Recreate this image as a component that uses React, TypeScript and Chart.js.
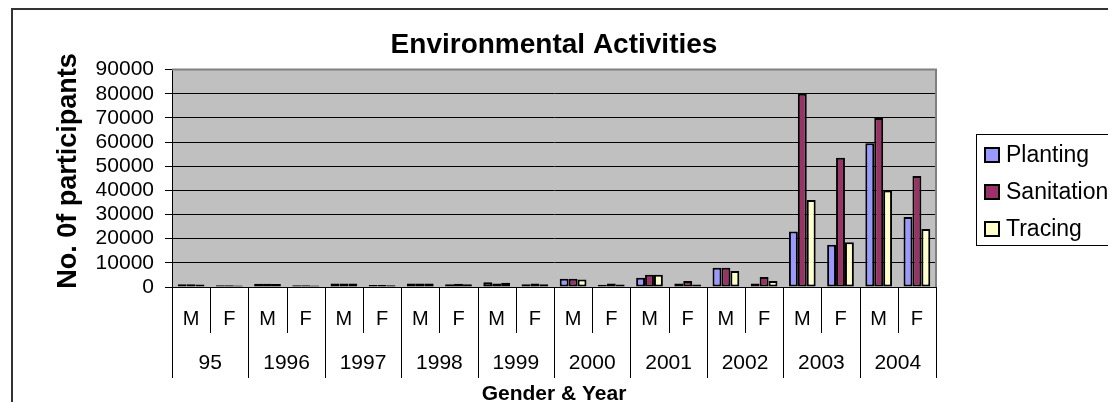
import React, { useEffect, useRef } from "react";
import { Chart, registerables } from "chart.js";

Chart.register(...registerables);

const FONT = "'Liberation Sans', Arial, Helvetica, sans-serif";

const CATEGORIES = ["M", "F", "M", "F", "M", "F", "M", "F", "M", "F", "M", "F", "M", "F", "M", "F", "M", "F", "M", "F"];
const YEARS = ["95", "1996", "1997", "1998", "1999", "2000", "2001", "2002", "2003", "2004"];

const PLANTING = [1100, 700, 1300, 700, 1500, 800, 1500, 1100, 1950, 1100, 3400, 900, 3800, 1500, 8000, 1500, 23000, 17500, 59500, 29000];
const SANITATION = [1100, 700, 1300, 700, 1500, 800, 1500, 1300, 1400, 1500, 3400, 1500, 5100, 2500, 8000, 4100, 80000, 53500, 70000, 46000];
const TRACING = [1000, 600, 1200, 600, 1400, 700, 1500, 1100, 1800, 1100, 3100, 1000, 5100, 1000, 6600, 2500, 36000, 18500, 40000, 24000];

const SERIES_NAMES = ["Planting", "Sanitation", "Tracing"];
const SERIES_COLORS = ["#9999FF", "#993366", "#FFFFCC"];

const Y_MIN = 0;
const Y_MAX = 90000;
const Y_STEP = 10000;

const TITLE = "Environmental Activities";
const Y_TITLE = "No. 0f participants";
const X_TITLE = "Gender & Year";

const framePlugin = {
  id: "frame",
  beforeDraw(chart: any) {
    const { ctx, chartArea } = chart;
    ctx.save();
    ctx.fillStyle = "#ffffff";
    ctx.fillRect(0, 0, chart.width, chart.height);
    ctx.strokeStyle = "#333333";
    ctx.lineWidth = 2;
    ctx.strokeRect(12, 9, 3000, 3000);
    ctx.fillStyle = "#C0C0C0";
    ctx.fillRect(chartArea.left, chartArea.top, chartArea.right - chartArea.left, chartArea.bottom - chartArea.top);
    ctx.restore();
  },
  afterDraw(chart: any) {
    const { ctx, chartArea } = chart;
    ctx.save();
    // plot border (top & right)
    ctx.strokeStyle = "#808080";
    ctx.lineWidth = 2;
    ctx.beginPath();
    ctx.moveTo(chartArea.left, chartArea.top);
    ctx.lineTo(chartArea.right, chartArea.top);
    ctx.lineTo(chartArea.right, chartArea.bottom);
    ctx.stroke();

    // category separators
    const xs = chart.scales.x;
    const n = xs.getLabels().length;
    const w = xs.getPixelForValue(1) - xs.getPixelForValue(0);
    ctx.strokeStyle = "#000000";
    ctx.lineWidth = 1;
    for (let i = 0; i <= n; i++) {
      const px = Math.round(xs.getPixelForValue(i) - w / 2) + 0.5;
      const yEnd = i % 2 === 0 ? 378 : 333;
      ctx.beginPath();
      ctx.moveTo(px, chartArea.bottom);
      ctx.lineTo(px, yEnd);
      ctx.stroke();
    }

    // y axis title
    ctx.save();
    ctx.translate(69, 171);
    ctx.rotate(-Math.PI / 2);
    ctx.font = `bold 27px ${FONT}`;
    ctx.fillStyle = "#000000";
    ctx.textAlign = "center";
    ctx.textBaseline = "middle";
    ctx.fillText(Y_TITLE, 0, 0);
    ctx.restore();

    // legend
    const lx = 976.5;
    const ly = 134.5;
    ctx.strokeStyle = "#000000";
    ctx.lineWidth = 1;
    ctx.strokeRect(lx, ly, 400, 111);
    const centers = [155, 192, 229];
    ctx.font = `23px ${FONT}`;
    ctx.textBaseline = "middle";
    ctx.textAlign = "left";
    chart.data.datasets.forEach((ds: any, i: number) => {
      const cy = centers[i];
      ctx.fillStyle = ds.backgroundColor;
      ctx.fillRect(985, cy - 7, 14, 14);
      ctx.strokeStyle = "#000000";
      ctx.lineWidth = 2;
      ctx.strokeRect(985, cy - 7, 14, 14);
      ctx.fillStyle = "#000000";
      ctx.fillText(ds.label, 1006, cy + 1);
    });
    ctx.restore();
  },
};

export default function App() {
  const ref = useRef<HTMLCanvasElement>(null);

  useEffect(() => {
    const seriesData = [PLANTING, SANITATION, TRACING];
    const chart = new Chart(ref.current as HTMLCanvasElement, {
      type: "bar",
      data: {
        labels: CATEGORIES,
        datasets: SERIES_NAMES.map((name, i) => ({
          label: name,
          data: seriesData[i],
          backgroundColor: SERIES_COLORS[i],
          borderColor: "#000000",
          borderWidth: 2,
          borderSkipped: false,
          categoryPercentage: 0.7,
          barPercentage: 1.0,
          xAxisID: "x",
        })),
      },
      options: {
        responsive: false,
        animation: false,
        events: [],
        layout: { padding: { left: 0, right: 180, top: 0, bottom: 0 } },
        plugins: {
          legend: { display: false },
          tooltip: { enabled: false },
          title: {
            display: true,
            text: TITLE,
            fullSize: false,
            color: "#000000",
            font: { family: FONT, size: 28, weight: "bold", lineHeight: 1.2 },
            padding: { top: 28, bottom: 8 },
          },
        },
        scales: {
          x: {
            type: "category",
            position: "bottom",
            offset: true,
            grid: { display: false, drawTicks: false },
            border: { display: true, color: "#000000", width: 1 },
            ticks: {
              color: "#000000",
              font: { family: FONT, size: 20 },
              padding: 20,
              autoSkip: false,
              maxRotation: 0,
            },
            afterFit: (s: any) => {
              s.height = 46;
            },
          },
          x2: {
            type: "category",
            position: "bottom",
            labels: YEARS,
            offset: true,
            grid: { display: false, drawTicks: false },
            border: { display: false },
            ticks: {
              color: "#000000",
              font: { family: FONT, size: 21 },
              padding: 18,
              autoSkip: false,
              maxRotation: 0,
            },
            title: {
              display: true,
              text: X_TITLE,
              color: "#000000",
              font: { family: FONT, size: 21, weight: "bold", lineHeight: 1.2 },
              padding: { top: 0, bottom: 3 },
            },
            afterFit: (s: any) => {
              s.height = 77;
            },
          },
          y: {
            min: Y_MIN,
            max: Y_MAX,
            grid: {
              color: (c: any) => (c.tick && c.tick.value === Y_MAX ? "#808080" : "#000000"),
              tickColor: "#000000",
              tickLength: 7,
              lineWidth: 1,
            },
            border: { display: true, color: "#000000", width: 1 },
            ticks: {
              stepSize: Y_STEP,
              maxTicksLimit: 20,
              autoSkip: false,
              color: "#000000",
              font: { family: FONT, size: 21, lineHeight: 1.0 },
              padding: 11,
              callback: (v: any) => String(v),
            },
            afterFit: (s: any) => {
              s.width = 172;
            },
          },
        },
      },
      plugins: [framePlugin],
    });
    return () => chart.destroy();
  }, []);

  return (
    <div style={{ margin: -8, width: 1116, height: 410, position: "relative", background: "#ffffff" }}>
      <canvas ref={ref} width={1116} height={410} style={{ display: "block", width: 1116, height: 410 }} />
    </div>
  );
}
